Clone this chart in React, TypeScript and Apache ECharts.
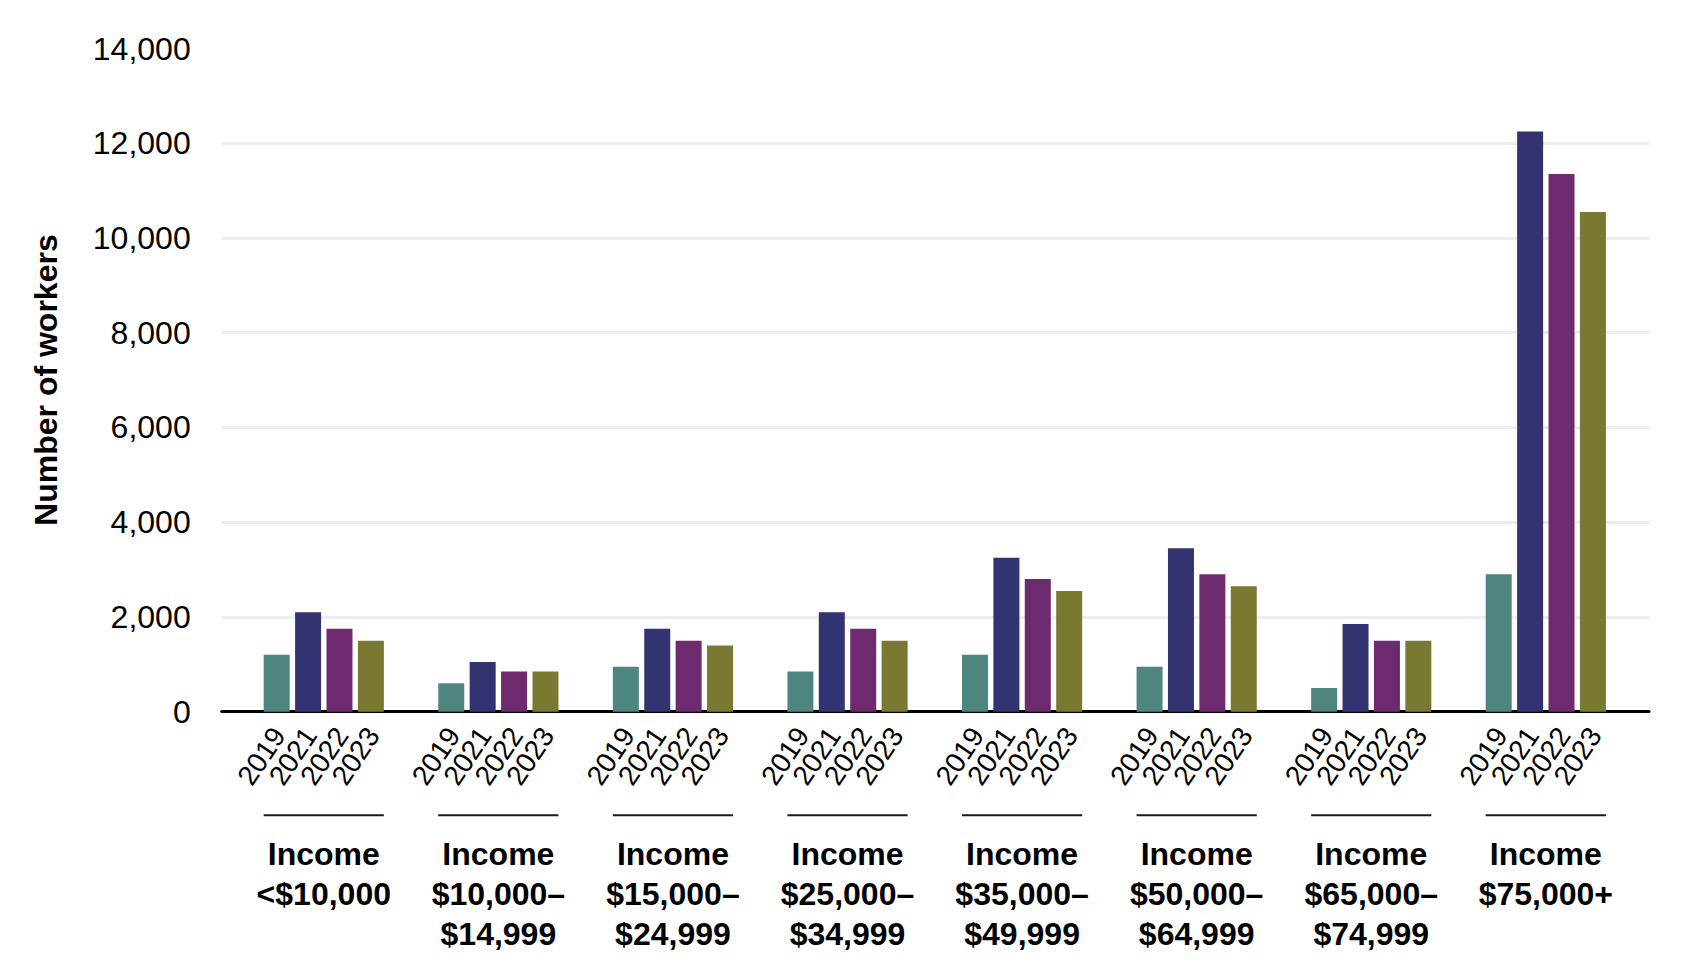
import React, { useEffect, useRef } from "react";
import * as echarts from "echarts";

const categories = [
  "Income\n<$10,000",
  "Income\n$10,000–\n$14,999",
  "Income\n$15,000–\n$24,999",
  "Income\n$25,000–\n$34,999",
  "Income\n$35,000–\n$49,999",
  "Income\n$50,000–\n$64,999",
  "Income\n$65,000–\n$74,999",
  "Income\n$75,000+",
];
const years = ["2019", "2021", "2022", "2023"];
const values2019 = [1200, 600, 950, 850, 1200, 950, 500, 2900];
const values2021 = [2100, 1050, 1750, 2100, 3250, 3450, 1850, 12250];
const values2022 = [1750, 850, 1500, 1750, 2800, 2900, 1500, 11350];
const values2023 = [1500, 850, 1400, 1500, 2550, 2650, 1500, 10550];
const yTicks = [0, 2000, 4000, 6000, 8000, 10000, 12000, 14000];
const colors = ["#4e857f", "#343371", "#6e2a6f", "#7a7932"];

const FONT = '"Liberation Sans", Arial, sans-serif';

export default function App() {
  const ref = useRef<HTMLDivElement>(null);
  useEffect(() => {
    if (!ref.current) return;
    const chart = echarts.init(ref.current, null, { renderer: "svg" });
    const seriesValues = [values2019, values2021, values2022, values2023];
    const BAR_W = 26;
    const BAR_GAP = 5.4;
    const halfSpan = (4 * BAR_W + 3 * BAR_GAP) / 2;
    const yMin = yTicks[0];
    const yMax = yTicks[yTicks.length - 1];
    const option: any = {
      animation: false,
      backgroundColor: "#ffffff",
      textStyle: { fontFamily: FONT },
      grid: [
        { left: 221.7, right: 51, top: 48.5, bottom: 267.3 },
        { left: 236.5, right: 66.9, top: 48.5, bottom: 267.3 },
      ],
      xAxis: [
        {
          type: "value",
          gridIndex: 0,
          min: 0,
          max: 1,
          axisLine: { show: true, onZero: false, lineStyle: { color: "#000000", width: 3 } },
          axisTick: { show: false },
          axisLabel: { show: false },
          splitLine: { show: false },
        },
        {
          type: "category",
          gridIndex: 1,
          data: categories,
          axisLine: { show: false },
          axisTick: { show: false },
          axisLabel: {
            show: true,
            interval: 0,
            margin: 122,
            verticalAlign: "top",
            color: "#000000",
            fontFamily: FONT,
            fontWeight: "bold",
            fontSize: 32,
            lineHeight: 40,
          },
        },
      ],
      yAxis: [
        {
          type: "value",
          gridIndex: 0,
          min: yMin,
          max: yMax,
          interval: 2000,
          name: "Number of workers",
          nameLocation: "middle",
          nameGap: 160,
          nameTextStyle: {
            color: "#000000",
            fontFamily: FONT,
            fontWeight: "bold",
            fontSize: 32,
          },
          axisLine: { show: false },
          axisTick: { show: false },
          axisLabel: {
            color: "#000000",
            fontFamily: FONT,
            fontSize: 32,
            margin: 31,
            formatter: (v: number) => v.toLocaleString("en-US"),
          },
          splitLine: {
            show: true,
            showMinLine: false,
            showMaxLine: false,
            lineStyle: { color: "#eeeded", width: 3 },
          },
        },
        {
          type: "value",
          gridIndex: 1,
          min: yMin,
          max: yMax,
          interval: 2000,
          show: false,
        },
      ],
      series: [
        ...years.map((y, i) => ({
          type: "bar",
          name: y,
          xAxisIndex: 1,
          yAxisIndex: 1,
          data: seriesValues[i],
          barWidth: BAR_W,
          barGap: `${(BAR_GAP / BAR_W) * 100}%`,
          itemStyle: { color: colors[i] },
          z: 3,
          label: {
            show: true,
            position: "bottom",
            distance: 22,
            offset: [4, 0],
            rotate: 56,
            align: "right",
            verticalAlign: "middle",
            color: "#000000",
            fontFamily: FONT,
            fontSize: 28,
            formatter: () => y,
          },
        })),
        {
          type: "custom",
          xAxisIndex: 1,
          yAxisIndex: 1,
          clip: false,
          silent: true,
          data: categories.map((_, i) => [i, 0]),
          encode: { x: 0, y: 1 },
          renderItem: (params: any, api: any) => {
            const p = api.coord([api.value(0), 0]);
            const yy = p[1] + 103.5;
            return {
              type: "line",
              shape: { x1: p[0] - halfSpan, y1: yy, x2: p[0] + halfSpan, y2: yy },
              style: { stroke: "#1a1a1a", lineWidth: 2 },
            };
          },
        },
      ],
    };
    chart.setOption(option);
    return () => chart.dispose();
  }, []);
  return (
    <div
      ref={ref}
      style={{ position: "fixed", left: 0, top: 0, width: 1700, height: 979, background: "#fff" }}
    />
  );
}
